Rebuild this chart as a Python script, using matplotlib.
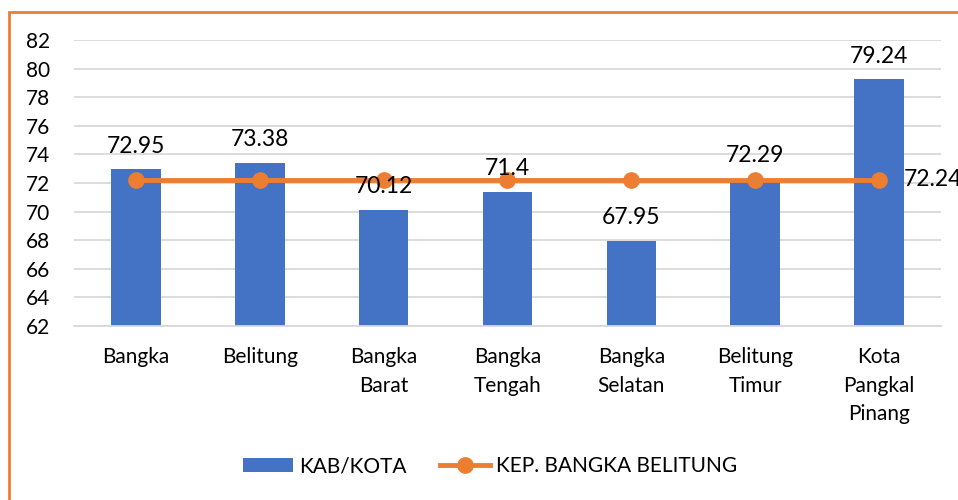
import matplotlib.pyplot as plt
import matplotlib.patches as mpatches
import numpy as np

plt.rcParams['font.family'] = ['Lato', 'DejaVu Sans']

categories = ['Bangka', 'Belitung', 'Bangka\nBarat', 'Bangka\nTengah',
              'Bangka\nSelatan', 'Belitung\nTimur', 'Kota\nPangkal\nPinang']
kab_kota = [72.95, 73.38, 70.12, 71.4, 67.95, 72.29, 79.24]
provinsi = [72.24, 72.24, 72.24, 72.24, 72.24, 72.24, 72.24]
bar_labels = ['72.95', '73.38', '70.12', '71.4', '67.95', '72.29', '79.24']

blue = '#4472C4'
orange = '#ED7D31'

fig = plt.figure(figsize=(9.58, 5), dpi=100)
# orange frame, cut off at the right and bottom
fig.patches.append(mpatches.Rectangle((9 / 958, -0.1), 1.0, 1 - 12 / 500 + 0.1,
                                      transform=fig.transFigure, fill=False,
                                      edgecolor=orange, linewidth=2))

ax = fig.add_axes([74 / 958, 1 - 326 / 500, (941 - 74) / 958, (326 - 40) / 500])
x = np.arange(len(categories))
base = 62
bars = ax.bar(x, [v - base for v in kab_kota], width=0.4, color=blue, bottom=base,
              label='KAB/KOTA', zorder=2)
line, = ax.plot(x, provinsi, color=orange, linewidth=3.5, marker='o', markersize=11,
                label='KEP. BANGKA BELITUNG', zorder=3)

for xi, v, lab in zip(x, kab_kota, bar_labels):
    ax.text(xi, v + 0.9, lab, ha='center', va='bottom', fontsize=16.5, zorder=4)
ax.text(x[-1] + 0.2, provinsi[-1], '72.24', ha='left', va='center',
        fontsize=16.5, zorder=4, clip_on=False)

ax.set_ylim(62, 82)
ax.set_xlim(-0.5, len(categories) - 0.5)
ax.set_yticks(np.arange(62, 83, 2))
ax.set_xticks(x)
ax.set_xticklabels(categories, fontsize=15, linespacing=1.55, va='top')
ax.tick_params(axis='y', labelsize=15, length=0, pad=17)
ax.tick_params(axis='x', length=0, pad=15)
ax.grid(axis='y', color='#D9D9D9', linewidth=1.3, zorder=0)
ax.set_axisbelow(True)
for s in ['top', 'right', 'left']:
    ax.spines[s].set_visible(False)
ax.spines['bottom'].set_color('#D9D9D9')
ax.spines['bottom'].set_linewidth(1.3)

ax.legend(handles=[bars, line], loc='center', bbox_to_anchor=(0.48, -0.49), ncol=2,
          frameon=False, fontsize=15, handlelength=2.4, columnspacing=1.6,
          handletextpad=0.3)

fig.savefig('out.png', dpi=100)
